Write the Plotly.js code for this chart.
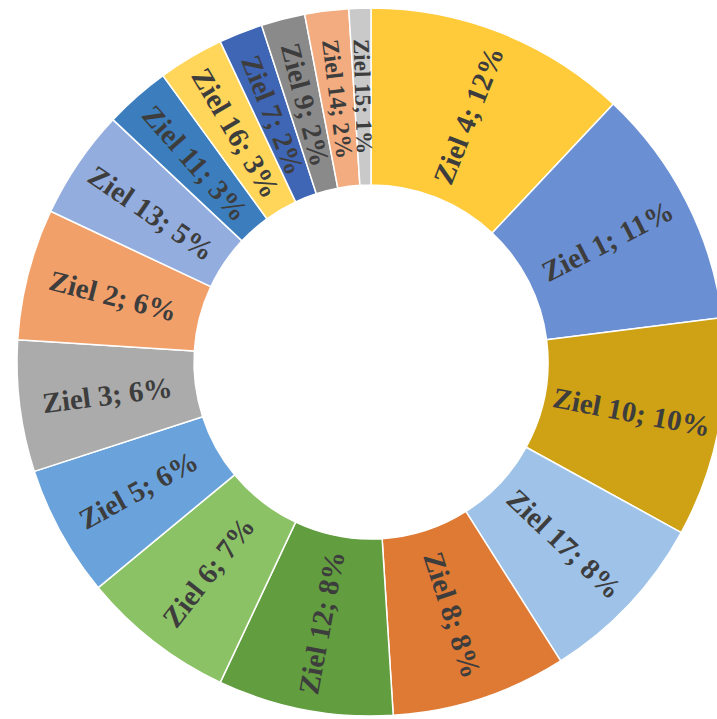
<!DOCTYPE html>
<html>
<head>
<meta charset="utf-8">
<script src="https://cdn.plot.ly/plotly-3.0.1.min.js"></script>
<style>
html, body { margin: 0; padding: 0; overflow: hidden; background: #fff; }
#chart { width: 730px; height: 719px; }
</style>
</head>
<body>
<div id="chart"></div>
<script>
const labels = ["Ziel 4", "Ziel 1", "Ziel 10", "Ziel 17", "Ziel 8", "Ziel 12", "Ziel 6", "Ziel 5", "Ziel 3", "Ziel 2", "Ziel 13", "Ziel 11", "Ziel 16", "Ziel 7", "Ziel 9", "Ziel 14", "Ziel 15"];
const values = [12, 11, 10, 8, 8, 8, 7, 6, 6, 6, 5, 3, 3, 2, 2, 2, 1];
const colors = ["#FFCB3A", "#6A8FD3", "#CFA114", "#9EC2E8", "#DE7A34", "#629D3F", "#8CC266", "#6AA3DC", "#ABABAB", "#F2A06A", "#93ADDF", "#3C7DBE", "#FFD65A", "#3F65B5", "#8A8A8A", "#F3AC7F", "#C9C9C9"];
const labelFontSizes = [29, 29, 29, 29, 29, 29, 29, 29, 29, 29, 29, 29, 29, 28, 28, 24, 23];

// figure geometry (pixels)
const W = 730, H = 719;
const cx = 371, cy = 362, R = 354, HOLE = 0.5;

const trace = {
  type: "pie",
  labels: labels,
  values: values,
  sort: false,
  direction: "clockwise",
  rotation: 0,
  hole: HOLE,
  marker: { colors: colors, line: { color: "#ffffff", width: 1.5 } },
  textinfo: "none",
  domain: { x: [(cx - R) / W, (cx + R) / W], y: [1 - (cy + R) / H, 1 - (cy - R) / H] },
  hoverinfo: "none"
};

// radial labels placed at each slice's mid-angle, computed from the data
const total = values.reduce((a, b) => a + b, 0);
const rMid = R * (1 + HOLE) / 2;
const annotations = [];
let cum = 0;
values.forEach((v, i) => {
  const theta = (cum + v / 2) / total * 360;   // clockwise from 12 o'clock
  cum += v;
  const rad = theta * Math.PI / 180;
  const px = cx + rMid * Math.sin(rad);
  const py = cy - rMid * Math.cos(rad);
  const angle = theta < 180 ? theta - 90 : theta - 270;
  annotations.push({
    xref: "paper", yref: "paper",
    x: px / W, y: 1 - py / H,
    xanchor: "center", yanchor: "middle",
    text: labels[i] + "; " + v + "%",
    showarrow: false,
    textangle: angle,
    font: { family: "Liberation Serif, Times New Roman, serif", size: labelFontSizes[i], color: "#3d3d3d", weight: "bold" }
  });
});

const layout = {
  width: W,
  height: H,
  margin: { l: 0, r: 0, t: 0, b: 0 },
  showlegend: false,
  paper_bgcolor: "#ffffff",
  annotations: annotations
};

Plotly.newPlot("chart", [trace], layout, { displayModeBar: false, staticPlot: true });
</script>
</body>
</html>
